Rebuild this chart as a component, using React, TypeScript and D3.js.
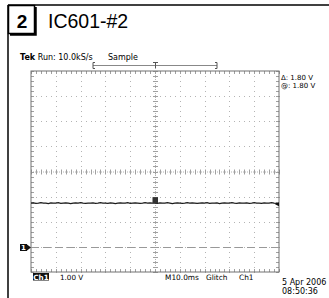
import React from 'react';
import * as d3 from 'd3';

// scope settings
const titleText = 'IC601-#2';
const panelNumber = '2';
const headerLabels = ['Run: 10.0kS/s', 'Sample'];
const cursorLabels = ['\u0394: 1.80 V', '@: 1.80 V'];
const bottomLabels = ['M10.0ms', 'Glitch', 'Ch1'];
const channelScale = '1.00 V';
const dateLines = ['5 Apr 2006', '08:50:36'];

// time in ms (10 ms/div), volts (1 V/div, ground one div above bottom)
const timeDomain = [-50, 50];
const voltDomain = [-1, 7];
const cursorVolts = 0;
const triggerWindow = [-25, 25];

// Ch1 samples, one per 1 ms
const traceVolts = [
  1.74, 1.75, 1.73, 1.74, 1.76, 1.74, 1.74, 1.72, 1.75, 1.74, 1.74, 1.76, 1.73,
  1.74, 1.75, 1.74, 1.72, 1.74, 1.75, 1.74, 1.76, 1.74, 1.73, 1.74, 1.74, 1.75,
  1.73, 1.74, 1.76, 1.74, 1.74, 1.73, 1.75, 1.74, 1.72, 1.74, 1.75, 1.74, 1.74,
  1.76, 1.73, 1.74, 1.75, 1.74, 1.73, 1.74, 1.76, 1.74, 1.75, 1.74, 1.74, 1.73,
  1.75, 1.74, 1.74, 1.76, 1.74, 1.72, 1.74, 1.75, 1.74, 1.73, 1.74, 1.76, 1.74,
  1.75, 1.74, 1.73, 1.74, 1.75, 1.74, 1.76, 1.73, 1.74, 1.74, 1.75, 1.72, 1.74,
  1.75, 1.74, 1.74, 1.76, 1.74, 1.73, 1.75, 1.74, 1.74, 1.75, 1.73, 1.74, 1.76,
  1.74, 1.74, 1.73, 1.75, 1.74, 1.74, 1.76, 1.74, 1.73, 1.72,
];

const scopeFont = '"DejaVu Sans", sans-serif';

const App = () => {
  const x = d3.scaleLinear().domain(timeDomain).range([31, 279]);
  const y = d3.scaleLinear().domain(voltDomain).range([272, 71]);

  const majorX = x.ticks(10);
  const majorY = y.ticks(8);
  const minorX = d3.range(timeDomain[0], timeDomain[1] + 0.01, 2);
  const minorY = d3.range(voltDomain[0], voltDomain[1] + 0.01, 0.2);
  const cx = x(0);
  const cy = y(3);

  const step = (timeDomain[1] - timeDomain[0]) / (traceVolts.length - 1);
  const line = d3
    .line<number>()
    .x((_, i) => x(timeDomain[0] + i * step))
    .y((d) => y(d));

  const gridGrey = '#b4b4b4';
  const tickGrey = '#a0a0a0';
  const dots: JSX.Element[] = [];
  majorX.slice(1, -1).forEach((t) => {
    if (t === 0) return;
    minorY.forEach((v, j) =>
      dots.push(<rect key={`vx${t}-${j}`} x={Math.round(x(t))} y={Math.round(y(v))} width={1} height={1} fill={gridGrey} />)
    );
  });
  majorY.slice(1, -1).forEach((v) => {
    if (v === 3) return;
    minorX.forEach((t, j) =>
      dots.push(<rect key={`hy${v}-${j}`} x={Math.round(x(t))} y={Math.round(y(v))} width={1} height={1} fill={gridGrey} />)
    );
  });

  const ticks: JSX.Element[] = [];
  minorY.forEach((v, j) => {
    const yy = Math.round(y(v)) + 0.5;
    ticks.push(<line key={`cty${j}`} x1={cx - 2} x2={cx + 3} y1={yy} y2={yy} stroke={tickGrey} />);
    ticks.push(<line key={`lty${j}`} x1={31} x2={34} y1={yy} y2={yy} stroke={tickGrey} />);
    ticks.push(<line key={`rty${j}`} x1={276} x2={279} y1={yy} y2={yy} stroke={tickGrey} />);
  });
  minorX.forEach((t, j) => {
    const xx = Math.round(x(t)) + 0.5;
    ticks.push(<line key={`ctx${j}`} x1={xx} x2={xx} y1={cy - 2} y2={cy + 3} stroke={tickGrey} />);
    ticks.push(<line key={`ttx${j}`} x1={xx} x2={xx} y1={71} y2={74} stroke={tickGrey} />);
    ticks.push(<line key={`btx${j}`} x1={xx} x2={xx} y1={269} y2={272} stroke={tickGrey} />);
  });

  const trigY = y(traceVolts[50]);
  const gndY = Math.round(y(cursorVolts)) + 0.5;

  return (
    <svg width={329} height={298} style={{ position: 'absolute', left: 0, top: 0 }}>
      <rect width={329} height={298} fill="#fff" />
      {/* outer frame */}
      <line x1={8} x2={329} y1={5} y2={5} stroke="#000" strokeWidth={1.5} />
      <line x1={8} x2={8} y1={5} y2={298} stroke="#000" strokeWidth={1.5} />
      <rect x={8.5} y={5.5} width={26} height={28} fill="#fff" stroke="#000" strokeWidth={1.5} />
      <polyline points="10,34.5 35.5,34.5 35.5,7" fill="none" stroke="#000" strokeWidth={2.5} />
      <text x={22} y={28} textAnchor="middle" fontFamily="Liberation Sans, Arial, sans-serif" fontWeight="bold" fontSize={19}>
        {panelNumber}
      </text>
      <text x={48} y={28} fontFamily="Liberation Sans, Arial, sans-serif" fontSize={19.5}>
        {titleText}
      </text>

      {/* header */}
      <text x={20} y={60} fontFamily={scopeFont} fontSize={8}>
        <tspan fontWeight="bold">Tek</tspan> {headerLabels[0]}
      </text>
      <text x={108} y={60} fontFamily={scopeFont} fontSize={8}>
        {headerLabels[1]}
      </text>
      <line x1={x(triggerWindow[0])} x2={x(triggerWindow[1])} y1={65.5} y2={65.5} stroke="#888" />
      <path d={`M${x(triggerWindow[0]) + 2},62.5 h-2 v6 h2`} fill="none" stroke="#555" />
      <path d={`M${x(triggerWindow[1]) - 2},62.5 h2 v6 h-2`} fill="none" stroke="#555" />
      <path d={`M${cx - 2},62.5 h5 M${cx + 0.5},62.5 v6`} fill="none" stroke="#555" />

      {/* graticule */}
      {dots}
      <line x1={cx + 0.5} x2={cx + 0.5} y1={71} y2={272} stroke={gridGrey} strokeDasharray="1,1" />
      <line x1={31} x2={279} y1={cy + 0.5} y2={cy + 0.5} stroke={gridGrey} strokeDasharray="1,1" />
      {ticks}
      <rect x={31} y={71} width={248} height={201} fill="none" stroke="#707070" />

      {/* cursor */}
      <line x1={31} x2={279} y1={gndY} y2={gndY} stroke="#999" strokeDasharray="8,4" />
      <rect x={20} y={gndY - 3.5} width={7} height={7} fill="#111" />
      <text x={23.5} y={gndY + 2.5} textAnchor="middle" fontFamily={scopeFont} fontWeight="bold" fontSize={7} fill="#fff">
        1
      </text>
      <path d={`M27,${gndY - 3} L31,${gndY} L27,${gndY + 3} Z`} fill="#111" />

      {/* trace */}
      <path d={line(traceVolts) ?? ''} fill="none" stroke="#1a1a1a" strokeWidth={1.2} />
      <rect x={cx - 2.5} y={trigY - 6} width={5.5} height={6} fill="#333" />
      <path d={`M279,${trigY - 1} L275,${trigY + 1} L279,${trigY + 3} Z`} fill="#111" />

      {/* right readouts */}
      <text x={281} y={80} fontFamily={scopeFont} fontSize={7}>
        {cursorLabels[0]}
      </text>
      <text x={281} y={87.5} fontFamily={scopeFont} fontSize={7}>
        {cursorLabels[1]}
      </text>

      {/* bottom readouts */}
      <rect x={33} y={273} width={16} height={7.5} fill="#111" />
      <text x={41} y={279.5} textAnchor="middle" fontFamily={scopeFont} fontSize={7.2} fontWeight="bold" fill="#fff">
        Ch1
      </text>
      <text x={60} y={280} fontFamily={scopeFont} fontSize={7.2}>
        {channelScale}
      </text>
      <text x={165} y={280} fontFamily={scopeFont} fontSize={7.4}>
        {bottomLabels[0]}
      </text>
      <text x={206} y={280} fontFamily={scopeFont} fontSize={7.4}>
        {bottomLabels[1]}
      </text>
      <text x={239} y={280} fontFamily={scopeFont} fontSize={7.4}>
        {bottomLabels[2]}
      </text>
      <text x={282} y={285} fontFamily={scopeFont} fontSize={8}>
        {dateLines[0]}
      </text>
      <text x={282} y={294} fontFamily={scopeFont} fontSize={8}>
        {dateLines[1]}
      </text>
    </svg>
  );
};

export default App;
